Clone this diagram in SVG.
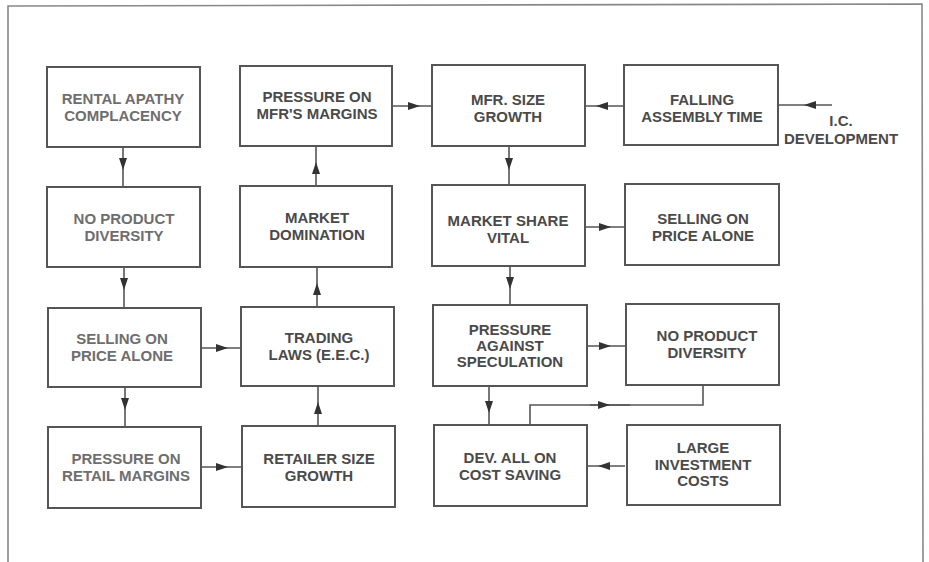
<svg xmlns="http://www.w3.org/2000/svg" width="929" height="562" viewBox="0 0 929 562">
<style>
.box{fill:#fff;stroke:#555;stroke-width:2}
.t{font-family:"Liberation Sans",Arial,sans-serif;font-weight:bold;font-size:15px;fill:#4a4a4a;text-anchor:middle}
.t1{fill:#6e6e6e}
.c{fill:none;stroke:#555;stroke-width:1.6;marker-mid:url(#ah)}
.plain{fill:none;stroke:#555;stroke-width:1.6}
</style>
<defs>
<marker id="ah" markerUnits="userSpaceOnUse" markerWidth="13" markerHeight="9" refX="12" refY="4.5" orient="auto">
<path d="M0,0.5 L12,4.5 L0,8.5 z" fill="#333"/>
</marker>
</defs>
<rect width="929" height="562" fill="#fff"/>
<path d="M8,562 L8,6 L922,4 L923,562" fill="none" stroke="#888" stroke-width="1.6"/>

<g id="connectors">
<path class="c" d="M123,147 L123,170 L123,187"/>
<path class="c" d="M124,267 L124,290 L124,308"/>
<path class="c" d="M125,387 L125,410 L125,427"/>
<path class="c" d="M201,348 L228,348 L241,348"/>
<path class="c" d="M201,467 L228,467 L242,467"/>
<path class="c" d="M318,426 L318,402 L318,386"/>
<path class="c" d="M317,307 L317,283 L317,267"/>
<path class="c" d="M316,186 L316,162 L316,146"/>
<path class="c" d="M392,106 L420,106 L432,106"/>
<path class="c" d="M624,106 L596,106 L585,106"/>
<path class="c" d="M832,105 L804,105 L778,105"/>
<path class="c" d="M509,146 L509,170 L509,185"/>
<path class="c" d="M585,227 L611,227 L624,227"/>
<path class="c" d="M510,266 L510,289 L510,305"/>
<path class="c" d="M587,346 L611,346 L626,346"/>
<path class="c" d="M489,386 L489,413 L489,425"/>
<path class="plain" d="M530,425 L530,405 L703,405 L703,385"/>
<path class="c" d="M590,405 L610,405 L630,405"/>
<path class="c" d="M625,466 L598,466 L587,466"/>
</g>

<g id="n_rental">
<rect class="box" x="47" y="67" width="153" height="80"/>
<text class="t t1" x="123" y="104">RENTAL APATHY</text>
<text class="t t1" x="123" y="121">COMPLACENCY</text>
</g>
<g id="n_noprod1">
<rect class="box" x="47" y="187" width="153" height="80"/>
<text class="t t1" x="124" y="224">NO PRODUCT</text>
<text class="t t1" x="124" y="241">DIVERSITY</text>
</g>
<g id="n_selling1">
<rect class="box" x="48" y="308" width="153" height="79"/>
<text class="t t1" x="122" y="344">SELLING ON</text>
<text class="t t1" x="122" y="361">PRICE ALONE</text>
</g>
<g id="n_retailmargins">
<rect class="box" x="48" y="427" width="153" height="81"/>
<text class="t t1" x="126" y="464">PRESSURE ON</text>
<text class="t t1" x="126" y="481">RETAIL MARGINS</text>
</g>

<g id="n_mfrmargins">
<rect class="box" x="240" y="66" width="152" height="80"/>
<text class="t" x="317" y="102">PRESSURE ON</text>
<text class="t" x="317" y="119">MFR'S MARGINS</text>
</g>
<g id="n_domination">
<rect class="box" x="240" y="186" width="152" height="81"/>
<text class="t" x="317" y="223">MARKET</text>
<text class="t" x="317" y="240">DOMINATION</text>
</g>
<g id="n_trading">
<rect class="box" x="241" y="307" width="153" height="79"/>
<text class="t" x="319" y="343">TRADING</text>
<text class="t" x="319" y="360">LAWS (E.E.C.)</text>
</g>
<g id="n_retailsize">
<rect class="box" x="242" y="426" width="153" height="81"/>
<text class="t" x="319" y="464">RETAILER SIZE</text>
<text class="t" x="319" y="481">GROWTH</text>
</g>

<g id="n_mfrsize">
<rect class="box" x="432" y="65" width="153" height="81"/>
<text class="t" x="508" y="105">MFR. SIZE</text>
<text class="t" x="508" y="122">GROWTH</text>
</g>
<g id="n_share">
<rect class="box" x="432" y="185" width="153" height="81"/>
<text class="t" x="508" y="226">MARKET SHARE</text>
<text class="t" x="508" y="243">VITAL</text>
</g>
<g id="n_speculation">
<rect class="box" x="433" y="305" width="154" height="81"/>
<text class="t" x="510" y="335">PRESSURE</text>
<text class="t" x="510" y="351">AGAINST</text>
<text class="t" x="510" y="367">SPECULATION</text>
</g>
<g id="n_costsaving">
<rect class="box" x="434" y="425" width="153" height="81"/>
<text class="t" x="510" y="463">DEV. ALL ON</text>
<text class="t" x="510" y="480">COST SAVING</text>
</g>

<g id="n_assembly">
<rect class="box" x="624" y="65" width="154" height="80"/>
<text class="t" x="702" y="105">FALLING</text>
<text class="t" x="702" y="122">ASSEMBLY TIME</text>
</g>
<g id="n_selling2">
<rect class="box" x="625" y="184" width="154" height="81"/>
<text class="t" x="703" y="224">SELLING ON</text>
<text class="t" x="703" y="241">PRICE ALONE</text>
</g>
<g id="n_noprod2">
<rect class="box" x="626" y="304" width="153" height="81"/>
<text class="t" x="707" y="341">NO PRODUCT</text>
<text class="t" x="707" y="358">DIVERSITY</text>
</g>
<g id="n_investment">
<rect class="box" x="627" y="425" width="153" height="80"/>
<text class="t" x="703" y="453">LARGE</text>
<text class="t" x="703" y="470">INVESTMENT</text>
<text class="t" x="703" y="486">COSTS</text>
</g>

<g id="n_ic">
<text class="t" x="841" y="126">I.C.</text>
<text class="t" x="841" y="144">DEVELOPMENT</text>
</g>
</svg>
